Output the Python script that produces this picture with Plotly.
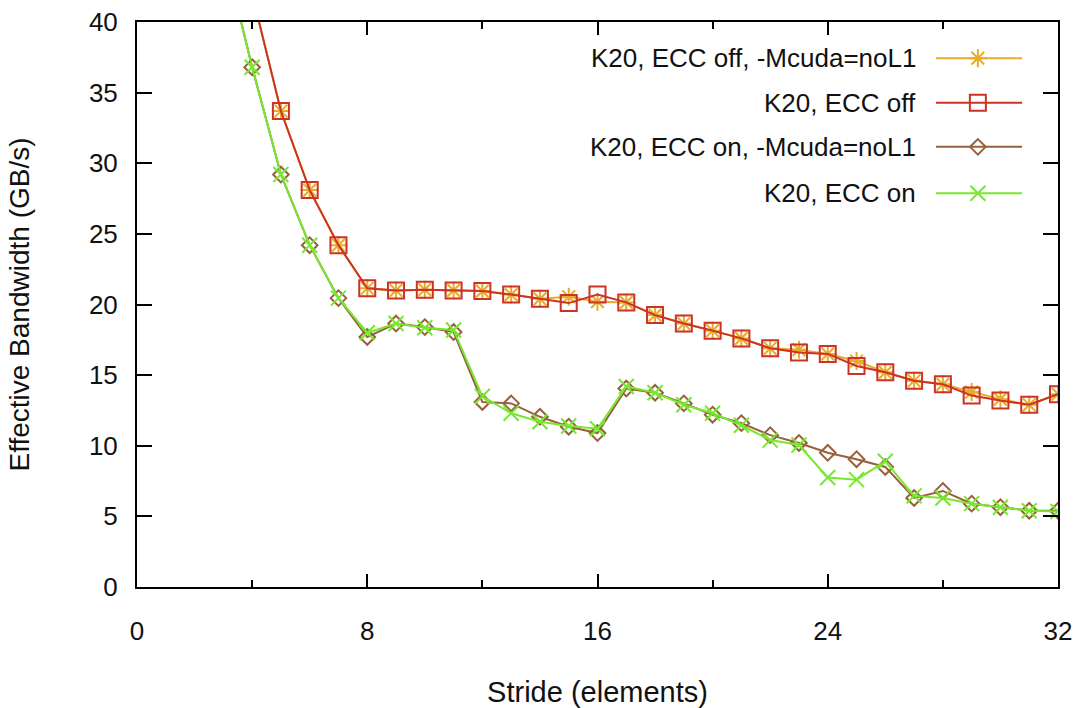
import plotly.graph_objects as go

# ---- data ----
stride_off = list(range(4, 33))
ecc_off_nol1 = [42.0, 33.7, 28.1, 24.2, 21.15, 21.0, 21.05, 21.0, 20.95, 20.7, 20.4, 20.55, 20.2,
                20.15, 19.25, 18.65, 18.15, 17.6, 16.9, 16.8, 16.5, 16.0, 15.2, 14.6, 14.35,
                13.8, 13.3, 12.9, 13.65]
ecc_off = [42.0, 33.7, 28.1, 24.2, 21.15, 21.0, 21.05, 21.0, 20.95, 20.7, 20.4, 20.1, 20.7,
           20.15, 19.25, 18.65, 18.15, 17.6, 16.9, 16.6, 16.5, 15.65, 15.2, 14.6, 14.35,
           13.55, 13.2, 12.9, 13.65]

stride_on = list(range(3, 33))
ecc_on_nol1 = [45.2, 36.8, 29.2, 24.2, 20.45, 17.7, 18.65, 18.4, 18.05, 13.1, 13.0, 12.05, 11.35,
               10.9, 14.05, 13.75, 13.0, 12.2, 11.6, 10.75, 10.2, 9.5, 9.05, 8.5, 6.3, 6.8,
               5.9, 5.65, 5.4, 5.4]
ecc_on = [45.2, 36.8, 29.2, 24.2, 20.45, 18.0, 18.65, 18.35, 18.2, 13.5, 12.3, 11.7, 11.4,
          11.2, 14.2, 13.75, 12.9, 12.3, 11.45, 10.4, 10.05, 7.75, 7.6, 8.9, 6.45, 6.3,
          5.9, 5.65, 5.4, 5.35]

series_names = ["K20, ECC off, -Mcuda=noL1", "K20, ECC off",
                "K20, ECC on, -Mcuda=noL1", "K20, ECC on"]
x_ticks = [0, 8, 16, 24, 32]
y_ticks = [0, 5, 10, 15, 20, 25, 30, 35, 40]

colors = ["#e8ac2c", "#cc3322", "#98603a", "#77e82e"]
symbols = ["asterisk-open", "square-open", "diamond-open", "x-thin-open"]
sizes = [15, 16, 12, 15]

series = [(stride_off, ecc_off_nol1), (stride_off, ecc_off),
          (stride_on, ecc_on_nol1), (stride_on, ecc_on)]

FONT = "Liberation Sans, Arial, Helvetica, sans-serif"
TXT = "#111111"

fig = go.Figure()
for (xs, ys), name, c, s, sz in zip(series, series_names, colors, symbols, sizes):
    fig.add_trace(go.Scatter(
        x=xs, y=ys, name=name, mode="lines+markers",
        line=dict(color=c, width=2),
        marker=dict(symbol=s, size=sz, color=c, line=dict(color=c, width=2)),
        showlegend=False))

# custom gnuplot-style legend (text left, sample right)
leg_y = [0.936, 0.857, 0.779, 0.697]
for name, c, s, sz, yy in zip(series_names, colors, symbols, sizes, leg_y):
    fig.add_trace(go.Scatter(
        x=[0.8675, 0.961], y=[yy, yy], mode="lines", xaxis="x2", yaxis="y2",
        line=dict(color=c, width=2), showlegend=False, hoverinfo="skip"))
    fig.add_trace(go.Scatter(
        x=[0.913], y=[yy], mode="markers", xaxis="x2", yaxis="y2",
        marker=dict(symbol=s, size=sz, color=c, line=dict(color=c, width=2)),
        showlegend=False, hoverinfo="skip"))
    fig.add_annotation(
        text=name, x=0.848, y=yy, xref="paper", yref="paper",
        xanchor="right", yanchor="middle", showarrow=False,
        font=dict(family=FONT, size=26, color=TXT))

axis_common = dict(
    showline=True, linecolor="black", linewidth=2, mirror="ticks",
    ticks="inside", tickcolor="black", tickwidth=2, showgrid=False, zeroline=False,
    automargin=False,
    tickfont=dict(family=FONT, size=26, color=TXT))

fig.update_layout(
    width=1080, height=708,
    paper_bgcolor="white", plot_bgcolor="white",
    margin=dict(l=137, r=22, t=22, b=121),
    xaxis=dict(range=[0, 32], tickvals=x_ticks, ticklen=13,
               minor=dict(ticks="inside", dtick=4, ticklen=7, tickcolor="black", tickwidth=2),
               ticklabelstandoff=20,
               title=dict(text="Stride (elements)", standoff=38,
                          font=dict(family=FONT, size=29, color=TXT)),
               **axis_common),
    yaxis=dict(range=[0, 40], tickvals=y_ticks, ticklen=15,
               ticklabelstandoff=12,
               title=dict(text="Effective Bandwidth (GB/s)", standoff=51,
                          font=dict(family=FONT, size=28, color=TXT)),
               **axis_common),
    xaxis2=dict(overlaying="x", range=[0, 1], visible=False),
    yaxis2=dict(overlaying="y", range=[0, 1], visible=False),
    showlegend=False,
)

fig.write_html("out.html",
               config={"displayModeBar": False},
               post_script="document.body.style.margin='0';document.body.style.padding='0';")
